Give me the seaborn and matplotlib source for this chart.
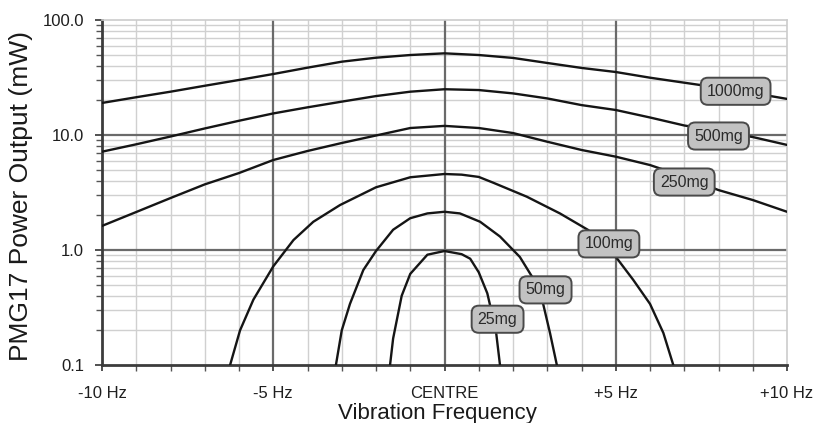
import numpy as np
import pandas as pd
import matplotlib
matplotlib.use("Agg")
import matplotlib.pyplot as plt
import matplotlib.ticker as mticker
import seaborn as sns

# ---- data ----
freq_1000 = [-10, -9, -8, -7, -6, -5, -4, -3, -2, -1, 0, 1, 2, 3, 4, 5, 6, 7, 8, 9, 10]
pow_1000 = [19.0, 21.3, 23.8, 26.8, 30.1, 33.9, 38.5, 43.4, 47.0, 49.6, 51.3, 49.6, 46.8, 42.3, 38.3, 35.3, 31.5, 28.5, 25.8, 23.2, 20.6]

freq_500 = [-10, -9, -8, -7, -6, -5, -4, -3, -2, -1, 0, 1, 2, 3, 4, 5, 6, 7, 8, 9, 10]
pow_500 = [7.16, 8.3, 9.7, 11.4, 13.3, 15.4, 17.4, 19.5, 21.8, 23.8, 25.0, 24.6, 23.0, 20.8, 18.2, 16.5, 14.2, 12.1, 10.8, 9.6, 8.2]

freq_250 = [-10, -9, -8, -7, -6, -5, -4, -3, -2, -1, 0, 1, 2, 3, 4, 5, 6, 7, 8, 9, 10]
pow_250 = [1.62, 2.14, 2.83, 3.72, 4.67, 6.06, 7.26, 8.52, 9.9, 11.5, 12.0, 11.5, 10.4, 8.74, 7.41, 6.48, 5.48, 4.34, 3.32, 2.72, 2.15]

freq_100 = [-6.26, -5.97, -5.58, -5.0, -4.41, -3.83, -3.05, -2.0, -1.0, 0.0, 0.5, 1.0, 1.42, 2.4, 3.37, 4.2, 5.03, 5.51, 6.0, 6.39, 6.68]
pow_100 = [0.1, 0.20, 0.37, 0.72, 1.22, 1.76, 2.46, 3.51, 4.29, 4.58, 4.52, 4.32, 3.85, 2.91, 2.08, 1.49, 0.85, 0.55, 0.34, 0.19, 0.1]

freq_50 = [-3.17, -3.0, -2.76, -2.37, -2.0, -1.5, -1.0, -0.5, 0.0, 0.45, 1.04, 1.62, 2.2, 2.55, 2.88, 3.08, 3.28]
pow_50 = [0.1, 0.20, 0.34, 0.67, 0.98, 1.5, 1.89, 2.08, 2.15, 2.08, 1.76, 1.31, 0.87, 0.59, 0.34, 0.19, 0.1]

freq_25 = [-1.59, -1.5, -1.25, -1.0, -0.5, 0.0, 0.5, 0.75, 1.0, 1.25, 1.5, 1.62]
pow_25 = [0.1, 0.17, 0.40, 0.62, 0.91, 0.98, 0.92, 0.84, 0.64, 0.42, 0.20, 0.1]

series_names = ["1000mg", "500mg", "250mg", "100mg", "50mg", "25mg"]
x_tick_vals = [-10, -5, 0, 5, 10]
x_tick_labels = ["-10 Hz", "-5 Hz", "CENTRE", "+5 Hz", "+10 Hz"]
y_tick_vals = [0.1, 1, 10, 100]
y_tick_labels = ["0.1", "1.0", "10.0", "100.0"]

# ---- build table ----
all_freq = [freq_1000, freq_500, freq_250, freq_100, freq_50, freq_25]
all_pow = [pow_1000, pow_500, pow_250, pow_100, pow_50, pow_25]
frames = []
for name, f, p in zip(series_names, all_freq, all_pow):
    frames.append(pd.DataFrame({"freq": f, "power": p, "series": name}))
df = pd.concat(frames, ignore_index=True)

# label anchor positions (layout only)
label_pos = {
    "1000mg": (8.5, 24.0),
    "500mg": (8.0, 9.8),
    "250mg": (7.0, 3.9),
    "100mg": (4.8, 1.13),
    "50mg": (2.95, 0.45),
    "25mg": (1.55, 0.25),
}

sns.set_theme(style="white")
plt.rcParams["font.family"] = ["Liberation Sans", "DejaVu Sans"]

fig = plt.figure(figsize=(8.17, 4.23), dpi=100)
ax = fig.add_axes([102 / 817, 1 - 365 / 423, 685 / 817, 345 / 423])

ax.set_yscale("log")
ax.set_xlim(-10, 10)
ax.set_ylim(0.1, 100)

# minor grid
ax.xaxis.set_major_locator(mticker.FixedLocator(x_tick_vals))
ax.xaxis.set_minor_locator(mticker.MultipleLocator(1))
ax.yaxis.set_major_locator(mticker.FixedLocator(y_tick_vals))
ax.yaxis.set_minor_locator(mticker.LogLocator(base=10, subs=np.arange(2, 10)))
ax.yaxis.set_minor_formatter(mticker.NullFormatter())
ax.grid(which="minor", color="#d0d0d0", linewidth=1.0, zorder=0.5)
ax.set_axisbelow(True)
# major grid lines drawn above the minor ones
for xv in x_tick_vals[1:-1]:
    ax.axvline(xv, color="#6a6a6a", linewidth=1.6, zorder=1)
for yv in y_tick_vals[1:-1]:
    ax.axhline(yv, color="#6a6a6a", linewidth=1.6, zorder=1)

sns.lineplot(data=df, x="freq", y="power", hue="series", hue_order=series_names,
             palette=["#151515"] * len(series_names), estimator=None, sort=True,
             linewidth=1.7, legend=False, ax=ax, zorder=3)

ax.set_xlim(-10, 10)
ax.set_ylim(0.1, 100)
ax.set_xticks(x_tick_vals)
ax.set_xticklabels(x_tick_labels)
ax.set_yticks(y_tick_vals)
ax.set_yticklabels(y_tick_labels)

ax.tick_params(axis="x", which="major", length=4, width=1.2, pad=11, labelsize=12, colors="#333333", labelcolor="#1e1e1e")
ax.tick_params(axis="x", which="minor", length=4, width=1.0, color="#555555")
ax.tick_params(axis="y", which="major", length=5, width=1.2, pad=8, labelsize=12, colors="#333333", labelcolor="#1e1e1e")
ax.tick_params(axis="y", which="minor", length=4, width=1.0, color="#555555")
ax.tick_params(bottom=True, left=True, which="both")

for side in ["top", "right"]:
    ax.spines[side].set_color("#cccccc")
    ax.spines[side].set_linewidth(1.2)
for side in ["left", "bottom"]:
    ax.spines[side].set_color("#3c3c3c")
    ax.spines[side].set_linewidth(2.0)

for name in series_names:
    lx, ly = label_pos[name]
    ax.text(lx, ly, name, ha="center", va="center", fontsize=11.5, color="#2a2a2a", zorder=5,
            bbox=dict(boxstyle="round,pad=0.38,rounding_size=0.45", fc="#c2c2c2", ec="#4a4a4a", lw=1.4))

ax.set_xlabel("Vibration Frequency", fontsize=16, color="#1a1a1a")
ax.xaxis.set_label_coords(0.49, -0.11)
ax.set_ylabel("PMG17 Power Output (mW)", fontsize=19, color="#1a1a1a")
ax.yaxis.set_label_coords(-0.1, 0.49)

fig.savefig("out.png", dpi=100, facecolor="white")
